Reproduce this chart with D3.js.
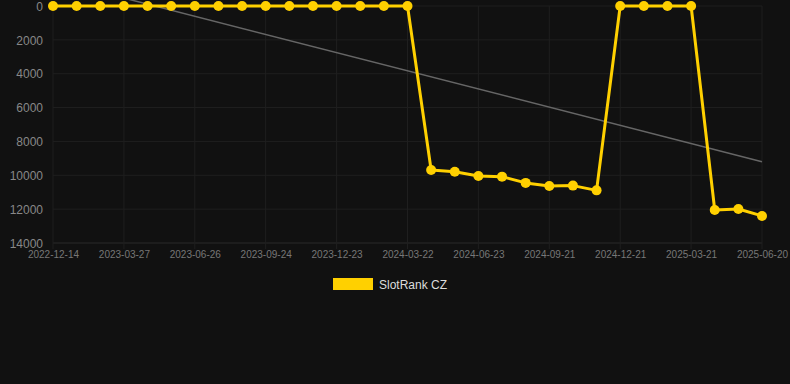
<!DOCTYPE html>
<html><head><meta charset="utf-8">
<script src="https://cdn.jsdelivr.net/npm/d3@7/dist/d3.min.js"></script>
<style>html,body{margin:0;padding:0;background:#111111;}svg{display:block;}</style>
</head><body><svg id="c" width="790" height="384"></svg>
<script>
const categories = ["2022-12-14","2023-01-17","2023-02-21","2023-03-27","2023-04-27","2023-05-27","2023-06-26","2023-07-26","2023-08-25","2023-09-24","2023-10-24","2023-11-23","2023-12-23","2024-01-22","2024-02-21","2024-03-22","2024-04-22","2024-05-23","2024-06-23","2024-07-23","2024-08-22","2024-09-21","2024-10-21","2024-11-21","2024-12-21","2025-01-20","2025-02-19","2025-03-21","2025-04-21","2025-05-21","2025-06-20"];
const rankValues = [0,0,0,0,0,0,0,0,0,0,0,0,0,0,0,0,9690,9790,10040,10080,10450,10630,10610,10890,0,0,0,0,12050,11990,12400];
const yTicks = [0,2000,4000,6000,8000,10000,12000,14000];
const seriesName = "SlotRank CZ";

const svg = d3.select("#c");
const pL = 53, pR = 762, pT = 6, pB = 243;
const x = d3.scaleLinear().domain([0, categories.length - 1]).range([pL, pR]);
const y = d3.scaleLinear().domain([0, 14000]).range([pT, pB]);
const xTickIdx = d3.range(0, categories.length, 3);

// grid
const g = svg.append("g");
g.selectAll("line.h").data(yTicks).join("line")
  .attr("x1", pL).attr("x2", pR).attr("y1", d => y(d)).attr("y2", d => y(d))
  .attr("stroke", d => d === 14000 ? "#2a2a2a" : "#1f1f1f").attr("stroke-width", 1);
g.selectAll("line.v").data(xTickIdx).join("line")
  .attr("x1", d => x(d)).attr("x2", d => x(d)).attr("y1", pT).attr("y2", pB + 6)
  .attr("stroke", "#1f1f1f").attr("stroke-width", 1);

// y axis labels
const yAxis = d3.axisLeft(y).tickValues(yTicks).tickSize(0).tickPadding(0).tickFormat(d3.format("d"));
const ya = svg.append("g").attr("transform", `translate(${pL - 10},0)`).call(yAxis);
ya.select(".domain").remove();
ya.selectAll("text").attr("fill", "#888").attr("font-family", "Liberation Sans, Arial, sans-serif").attr("font-size", 12).attr("dy", "0.35em");

// x axis labels
const xAxis = d3.axisBottom(x).tickValues(xTickIdx).tickSize(0).tickPadding(0).tickFormat(i => categories[i]);
const xa = svg.append("g").attr("transform", `translate(0,${pB + 8})`).call(xAxis);
xa.select(".domain").remove();
xa.selectAll("text").attr("fill", "#777").attr("font-family", "Liberation Sans, Arial, sans-serif").attr("font-size", 10).attr("dy", "0.71em");

// trend line (least squares)
const n = rankValues.length;
const mx = d3.mean(d3.range(n)), my = d3.mean(rankValues);
let sxy = 0, sxx = 0;
rankValues.forEach((v, i) => { sxy += (i - mx) * (v - my); sxx += (i - mx) * (i - mx); });
const slope = sxy / sxx, icpt = my - slope * mx;
svg.append("line")
  .attr("x1", x(0)).attr("y1", y(icpt))
  .attr("x2", x(n - 1)).attr("y2", y(icpt + slope * (n - 1)))
  .attr("stroke", "#666").attr("stroke-width", 1.5);

// series line
const col = "#FFD000";
svg.append("path").datum(rankValues)
  .attr("d", d3.line().x((d, i) => x(i)).y(d => y(d)))
  .attr("fill", "none").attr("stroke", col).attr("stroke-width", 3).attr("stroke-linejoin", "round");
svg.selectAll("circle.p").data(rankValues).join("circle")
  .attr("cx", (d, i) => x(i)).attr("cy", d => y(d)).attr("r", 5).attr("fill", col);

// legend
svg.append("rect").attr("x", 333).attr("y", 278).attr("width", 40).attr("height", 12).attr("fill", col);
svg.append("text").attr("x", 379).attr("y", 288.5).text(seriesName)
  .attr("fill", "#ddd").attr("font-family", "Liberation Sans, Arial, sans-serif").attr("font-size", 12);
</script>
</body></html>
